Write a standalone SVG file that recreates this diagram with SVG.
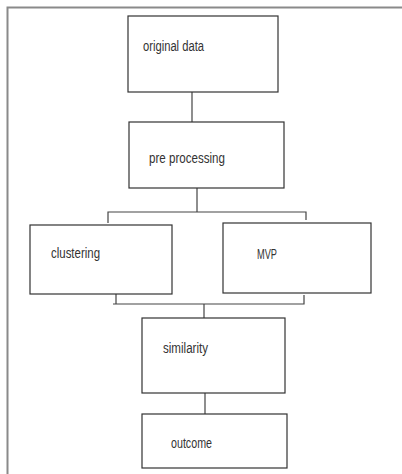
<svg xmlns="http://www.w3.org/2000/svg" width="402" height="474" viewBox="0 0 402 474">
<style>
.frame{fill:none;stroke:#8a8a8a;stroke-width:2}
.box{fill:#fff;stroke:#333;stroke-width:1.2}
.con{fill:none;stroke:#444;stroke-width:1.2}
.lbl{font-family:"Liberation Sans Narrow","Liberation Sans",Arial,sans-serif;font-size:14px;fill:#333}
</style>
<rect width="402" height="474" fill="#fff"/>
<path class="frame" d="M7.5 474 V7.5 H402"/>
<g id="connectors">
<path class="con" d="M192 92 V122"/>
<path class="con" d="M197 188 V212 M108 223 V212 H306 V220"/>
<path class="con" d="M116 294 V304 H113 M116 304 H304 V295 M204 304 V318"/>
<path class="con" d="M205 393 V414"/>
</g>
<g id="original-data"><rect class="box" x="128" y="16" width="150" height="76"/><text class="lbl" x="143" y="51" textLength="61" lengthAdjust="spacingAndGlyphs">original data</text></g>
<g id="pre-processing"><rect class="box" x="129" y="122" width="155" height="66"/><text class="lbl" x="149" y="163" textLength="76" lengthAdjust="spacingAndGlyphs">pre processing</text></g>
<g id="clustering"><rect class="box" x="30" y="225" width="142" height="69"/><text class="lbl" x="51" y="258" textLength="49" lengthAdjust="spacingAndGlyphs">clustering</text></g>
<g id="mvp"><rect class="box" x="223" y="223" width="148" height="70"/><text class="lbl" x="257" y="259" textLength="20" lengthAdjust="spacingAndGlyphs">MVP</text></g>
<g id="similarity"><rect class="box" x="142" y="318" width="143" height="75"/><text class="lbl" x="163" y="353" textLength="45" lengthAdjust="spacingAndGlyphs">similarity</text></g>
<g id="outcome"><rect class="box" x="142" y="414" width="145" height="54"/><text class="lbl" x="171" y="448" textLength="41" lengthAdjust="spacingAndGlyphs">outcome</text></g>
</svg>
